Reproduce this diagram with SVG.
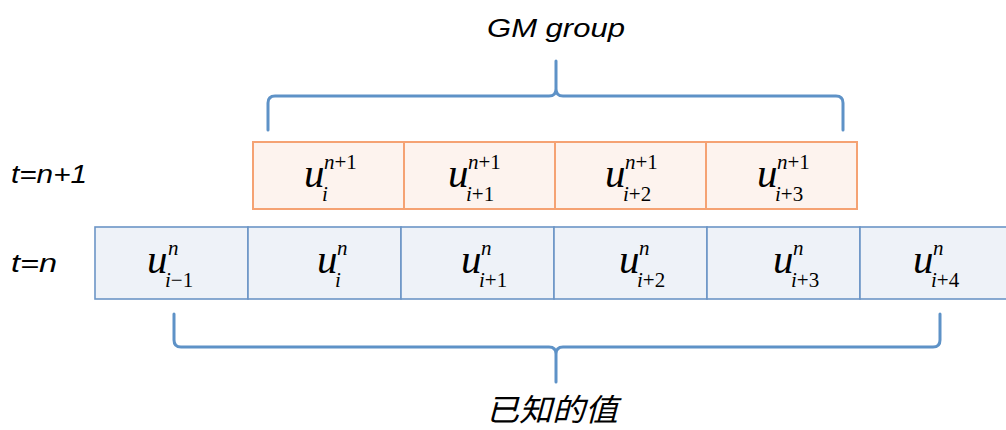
<svg xmlns="http://www.w3.org/2000/svg" width="1006" height="430" viewBox="0 0 1006 430">
  <style>
    .new  { fill: #FDF3EE; stroke: #F5A273; stroke-width: 2; }
    .old  { fill: #EEF2F8; stroke: #6C95C6; stroke-width: 1.6; }
    .brace { fill: none; stroke: #5E92C7; stroke-width: 3; stroke-linejoin: round; stroke-linecap: round; }
    .u    { font-family: "Liberation Serif", "DejaVu Serif", serif; font-style: italic; font-size: 41px; fill: #000; }
    .s    { font-size: 21px; font-style: normal; }
    .it   { font-style: italic; }
    .lbl  { font-family: "Liberation Sans", "Open Sans", sans-serif; font-style: italic; font-size: 25px; fill: #000; }
    .cjk  { font-family: "Noto Sans CJK SC", "Noto Sans CJK TC", sans-serif; font-style: italic; font-size: 31px; fill: #000; }
  </style>

  <!-- row labels -->
  <text class="lbl" x="11" y="183" textLength="76" lengthAdjust="spacingAndGlyphs">t=n+1</text>
  <text class="lbl" x="11" y="272" textLength="46" lengthAdjust="spacingAndGlyphs">t=n</text>

  <!-- upper label -->
  <text id="gm-label" class="lbl" x="487" y="37" font-size="26" textLength="138" lengthAdjust="spacingAndGlyphs">GM group</text>

  <!-- braces -->
  <g id="connectors">
    <path class="brace" d="M268,130 V103 Q268,96 275,96 H549 Q556,96 556,89 V61 M556,89 Q556,96 563,96 H836 Q843,96 843,103 V130"/>
    <path class="brace" d="M174,314 V340 Q174,347 181,347 H549 Q556,347 556,354 V382 M556,354 Q556,347 563,347 H933 Q940,347 940,340 V314"/>
  </g>

  <!-- time level n+1: u with superscript n+1 and subscript index -->
  <g id="new-i">
    <rect class="new" x="253" y="142" width="151" height="67"/>
    <text class="u" x="304" y="187">u<tspan class="s" x="324" y="169"><tspan class="it">n</tspan>+1</tspan><tspan class="s it" x="322" y="201">i</tspan></text>
  </g>
  <g id="new-i1">
    <rect class="new" x="404" y="142" width="151" height="67"/>
    <text class="u" x="448" y="187">u<tspan class="s" x="468" y="169"><tspan class="it">n</tspan>+1</tspan><tspan class="s" x="466" y="201"><tspan class="it">i</tspan>+1</tspan></text>
  </g>
  <g id="new-i2">
    <rect class="new" x="555" y="142" width="151" height="67"/>
    <text class="u" x="605" y="187">u<tspan class="s" x="625" y="169"><tspan class="it">n</tspan>+1</tspan><tspan class="s" x="623" y="201"><tspan class="it">i</tspan>+2</tspan></text>
  </g>
  <g id="new-i3">
    <rect class="new" x="706" y="142" width="151" height="67"/>
    <text class="u" x="757" y="187">u<tspan class="s" x="777" y="169"><tspan class="it">n</tspan>+1</tspan><tspan class="s" x="775" y="201"><tspan class="it">i</tspan>+3</tspan></text>
  </g>

  <!-- time level n: u with superscript n and subscript index -->
  <g id="old-im1">
    <rect class="old" x="95" y="227" width="153" height="72"/>
    <text class="u" x="147" y="273">u<tspan class="s it" x="168" y="255">n</tspan><tspan class="s" x="165" y="287"><tspan class="it">i</tspan>−1</tspan></text>
  </g>
  <g id="old-i">
    <rect class="old" x="248" y="227" width="153" height="72"/>
    <text class="u" x="317" y="273">u<tspan class="s it" x="337" y="255">n</tspan><tspan class="s it" x="335" y="287">i</tspan></text>
  </g>
  <g id="old-i1">
    <rect class="old" x="401" y="227" width="153" height="72"/>
    <text class="u" x="461" y="273">u<tspan class="s it" x="481" y="255">n</tspan><tspan class="s" x="479" y="287"><tspan class="it">i</tspan>+1</tspan></text>
  </g>
  <g id="old-i2">
    <rect class="old" x="554" y="227" width="153" height="72"/>
    <text class="u" x="619" y="273">u<tspan class="s it" x="639" y="255">n</tspan><tspan class="s" x="637" y="287"><tspan class="it">i</tspan>+2</tspan></text>
  </g>
  <g id="old-i3">
    <rect class="old" x="707" y="227" width="153" height="72"/>
    <text class="u" x="773" y="273">u<tspan class="s it" x="793" y="255">n</tspan><tspan class="s" x="791" y="287"><tspan class="it">i</tspan>+3</tspan></text>
  </g>
  <g id="old-i4">
    <rect class="old" x="860" y="227" width="155" height="72"/>
    <text class="u" x="913" y="273">u<tspan class="s it" x="933" y="255">n</tspan><tspan class="s" x="931" y="287"><tspan class="it">i</tspan>+4</tspan></text>
  </g>

  <!-- lower label -->
  <text id="known-label" class="cjk" x="486" y="421" textLength="132" lengthAdjust="spacingAndGlyphs">已知的值</text>
</svg>
